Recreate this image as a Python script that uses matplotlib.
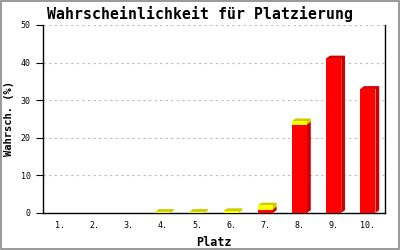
import matplotlib
matplotlib.use("Agg")
import matplotlib.pyplot as plt
from matplotlib.patches import Rectangle, Polygon

plaetze = ["1.", "2.", "3.", "4.", "5.", "6.", "7.", "8.", "9.", "10."]
rot = [0, 0, 0, 0, 0, 0, 0.9, 23.5, 41.1, 33.0]
gelb = [0, 0, 0, 0.3, 0.3, 0.5, 1.1, 0.9, 0, 0]

plt.rcParams['font.family'] = ['DejaVu Sans Mono']

fig = plt.figure(figsize=(4, 2.5), dpi=100)
ax = fig.add_axes([43/400, 37/250, 342/400, 188/250])

breite = 0.44
dx, dy = 0.11, 0.75


def balken(x, unten, hoehe, farbe, dunkel):
    if hoehe <= 0:
        return
    x0, x1 = x - breite/2, x + breite/2
    oben = unten + hoehe
    # Seite und Deckel (3D-Effekt)
    ax.add_patch(Polygon([(x0, oben), (x0 + dx, oben + dy), (x1 + dx, oben + dy),
                          (x1 + dx, unten + dy), (x1, unten), (x1, oben)],
                         closed=True, facecolor=dunkel, edgecolor='none', zorder=3))
    ax.add_patch(Rectangle((x0, unten), breite, hoehe,
                           facecolor=farbe, edgecolor='none', zorder=4))


for i in range(len(plaetze)):
    x = i + 1
    balken(x, 0, rot[i], '#ff0000', '#cc0000')
    balken(x, rot[i], gelb[i], '#ffff00', '#cccc00')

ax.set_xlim(0.5, 10.5)
ax.set_ylim(0, 50)
ax.set_xticks(range(1, 11))
ax.set_xticklabels(plaetze, fontsize=6)
ax.set_yticks([0, 10, 20, 30, 40, 50])
ax.tick_params(axis='y', labelsize=6, length=5, direction='out', pad=4)
ax.tick_params(axis='x', length=0, pad=6)
ax.grid(axis='y', color='#bbbbbb', linestyle=(0, (2, 3)), linewidth=0.8)
ax.set_axisbelow(True)
ax.spines['top'].set_visible(False)
for s in ['left', 'bottom', 'right']:
    ax.spines[s].set_linewidth(1)

fig.text(0.5, 0.945, 'Wahrscheinlichkeit für Platzierung', fontsize=10.7,
         fontweight='bold', ha='center', va='center')
ax.set_xlabel('Platz', fontsize=8.5, fontweight='bold', labelpad=4)
ax.set_ylabel('Wahrsch. (%)', fontsize=7.5, fontweight='bold', labelpad=5)

fig.patches.append(Rectangle((0.002, 0.003), 0.995, 0.993, transform=fig.transFigure,
                             fill=False, edgecolor='#888888', linewidth=1.2))

plt.savefig('out.png')
